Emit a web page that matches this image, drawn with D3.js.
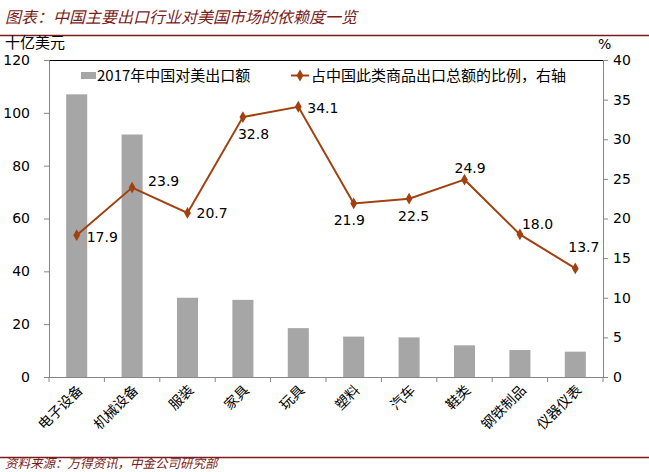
<!DOCTYPE html>
<html>
<head>
<meta charset="utf-8">
<script src="https://cdn.jsdelivr.net/npm/d3@7"></script>
<style>
body { margin: 0; background: #fff; }
svg { display: block; }
</style>
</head>
<body>
<script>
// categories and values
var categories = ["电子设备", "机械设备", "服装", "家具", "玩具", "塑料", "汽车", "鞋类", "钢铁制品", "仪器仪表"];
var exportValues = [107, 91.8, 30, 29.2, 18.5, 15.3, 15, 12, 10.2, 9.6];
var shareValues = [17.9, 23.9, 20.7, 32.8, 34.1, 21.9, 22.5, 24.9, 18.0, 13.7];
var leftTicks = [0, 20, 40, 60, 80, 100, 120];
var rightTicks = [0, 5, 10, 15, 20, 25, 30, 35, 40];
// label nudges relative to each point (dx, dy)
var labelDx = [10, 16, 9, -5, 9, -20, -11, -10, 2, -7];
var labelDy = [7, -2, 5, 22, 6, 22, 22, -7, -5, -16];

var width = 649, height = 472;
var plotLeft = 49, plotRight = 603, plotTop = 60, plotBottom = 377;
var numFont = "'DejaVu Sans', Verdana, sans-serif";
var cjkFont = "'Noto Sans CJK SC', sans-serif";
var lineColor = "#A0410F";
var barColor = "#A6A6A6";
var axisColor = "#868686";
var maroon = "#7A1C1C";

var svg = d3.select("body").append("svg")
    .attr("width", width)
    .attr("height", height);

// title + rules
svg.append("text")
    .attr("x", 5).attr("y", 23)
    .attr("font-family", cjkFont)
    .attr("font-style", "italic")
    .attr("font-size", 16)
    .attr("fill", maroon)
    .text("图表：中国主要出口行业对美国市场的依赖度一览");
svg.append("line")
    .attr("x1", 0).attr("x2", width)
    .attr("y1", 35.5).attr("y2", 35.5)
    .attr("stroke", maroon).attr("stroke-width", 1.5);
svg.append("line")
    .attr("x1", 0).attr("x2", width)
    .attr("y1", 457.5).attr("y2", 457.5)
    .attr("stroke", maroon).attr("stroke-width", 1.5);
svg.append("text")
    .attr("x", 5).attr("y", 468)
    .attr("font-family", cjkFont)
    .attr("font-style", "italic")
    .attr("font-size", 12.5)
    .attr("fill", maroon)
    .text("资料来源：万得资讯，中金公司研究部");

var x = d3.scaleBand()
    .domain(categories)
    .range([plotLeft, plotRight])
    .paddingInner(0.62)
    .paddingOuter(0.31);

var xStep = (plotRight - plotLeft) / categories.length;

var y = d3.scaleLinear().domain([0, 120]).range([plotBottom, plotTop]);
var y2 = d3.scaleLinear().domain([0, 40]).range([plotBottom, plotTop]);

// top border
svg.append("line")
    .attr("x1", plotLeft).attr("x2", plotRight)
    .attr("y1", plotTop + 0.5).attr("y2", plotTop + 0.5)
    .attr("stroke", "#000").attr("stroke-width", 1);

// bars
svg.selectAll(".bar")
    .data(exportValues)
    .enter()
    .append("rect")
    .attr("class", "bar")
    .attr("x", function(d, i) { return x(categories[i]); })
    .attr("width", x.bandwidth())
    .attr("y", function(d) { return y(d); })
    .attr("height", function(d) { return plotBottom - y(d); })
    .attr("fill", barColor);

// left axis
var gl = svg.append("g")
    .attr("transform", "translate(" + plotLeft + ",0)")
    .call(d3.axisLeft(y).tickValues(leftTicks).tickSize(5).tickPadding(14));
gl.select(".domain").attr("stroke", axisColor);
gl.selectAll(".tick line").attr("stroke", axisColor);
gl.selectAll("text")
    .attr("font-family", numFont).attr("font-size", 14).attr("fill", "#000");

// right axis
var gr = svg.append("g")
    .attr("transform", "translate(" + plotRight + ",0)")
    .call(d3.axisRight(y2).tickValues(rightTicks).tickSize(5).tickPadding(5));
gr.select(".domain").attr("stroke", axisColor);
gr.selectAll(".tick line").attr("stroke", axisColor);
gr.selectAll("text")
    .attr("font-family", numFont).attr("font-size", 14).attr("fill", "#000");

// bottom axis with ticks between categories
var gb = svg.append("g");
gb.append("line")
    .attr("x1", plotLeft).attr("x2", plotRight)
    .attr("y1", plotBottom + 0.5).attr("y2", plotBottom + 0.5)
    .attr("stroke", axisColor);
gb.selectAll(".ctick")
    .data(d3.range(categories.length + 1))
    .enter()
    .append("line")
    .attr("x1", function(i) { return plotLeft + i * xStep; })
    .attr("x2", function(i) { return plotLeft + i * xStep; })
    .attr("y1", plotBottom).attr("y2", plotBottom + 5)
    .attr("stroke", axisColor);
gb.selectAll(".clabel")
    .data(categories)
    .enter()
    .append("text")
    .attr("transform", function(d) {
        return "translate(" + (x(d) + x.bandwidth() / 2 + 7) + "," + (plotBottom + 14) + ") rotate(-45)";
    })
    .attr("text-anchor", "end")
    .attr("font-family", cjkFont)
    .attr("font-size", 14)
    .attr("fill", "#000")
    .text(function(d) { return d; });

// line series
var cx = function(i) { return x(categories[i]) + x.bandwidth() / 2; };
var line = d3.line()
    .x(function(d, i) { return cx(i); })
    .y(function(d) { return y2(d); });
svg.append("path")
    .datum(shareValues)
    .attr("d", line)
    .attr("fill", "none")
    .attr("stroke", lineColor)
    .attr("stroke-width", 2);
svg.selectAll(".pt")
    .data(shareValues)
    .enter()
    .append("path")
    .attr("class", "pt")
    .attr("d", d3.symbol().type(d3.symbolDiamond).size(40))
    .attr("transform", function(d, i) { return "translate(" + cx(i) + "," + y2(d) + ")"; })
    .attr("fill", lineColor);

// data labels
svg.selectAll(".lbl")
    .data(shareValues)
    .enter()
    .append("text")
    .attr("class", "lbl")
    .attr("x", function(d, i) { return cx(i) + labelDx[i]; })
    .attr("y", function(d, i) { return y2(d) + labelDy[i]; })
    .attr("font-family", numFont)
    .attr("font-size", 14)
    .attr("fill", "#000")
    .text(function(d) { return d.toFixed(1); });

// units
svg.append("text")
    .attr("x", 5).attr("y", 48)
    .attr("font-family", cjkFont).attr("font-size", 15)
    .text("十亿美元");
svg.append("text")
    .attr("x", 598).attr("y", 49)
    .attr("font-family", numFont).attr("font-size", 14)
    .text("%");

// legend
svg.append("rect")
    .attr("x", 81).attr("y", 72).attr("width", 15).attr("height", 7)
    .attr("fill", barColor);
svg.append("text")
    .attr("x", 97).attr("y", 81)
    .attr("font-family", cjkFont).attr("font-size", 15)
    .text("2017年中国对美出口额");
svg.append("line")
    .attr("x1", 291).attr("x2", 309).attr("y1", 75.5).attr("y2", 75.5)
    .attr("stroke", lineColor).attr("stroke-width", 2);
svg.append("path")
    .attr("d", d3.symbol().type(d3.symbolDiamond).size(40))
    .attr("transform", "translate(300,75.5)")
    .attr("fill", lineColor);
svg.append("text")
    .attr("x", 311).attr("y", 81)
    .attr("font-family", cjkFont).attr("font-size", 15)
    .text("占中国此类商品出口总额的比例，右轴");
</script>
</body>
</html>
